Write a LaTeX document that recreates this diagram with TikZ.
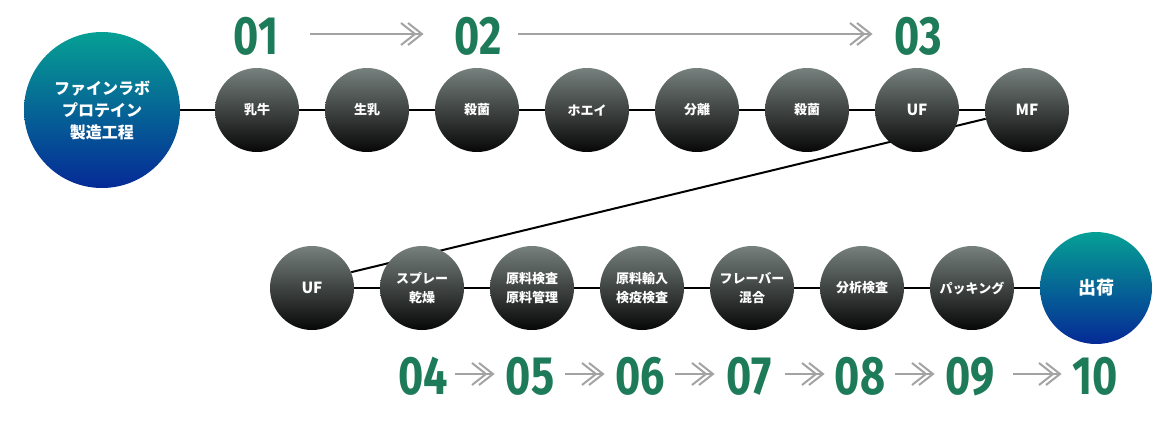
\documentclass[tikz,border=0pt]{standalone}
\usepackage{fontspec}
\newfontfamily\jp{Noto Sans CJK JP}
\newfontfamily\numfont{Fira Sans}[FakeStretch=0.8]
\usetikzlibrary{backgrounds}
\definecolor{ctop}{HTML}{76807D}
\definecolor{cbot}{HTML}{070707}
\definecolor{btop}{HTML}{06A095}
\definecolor{bbot}{HTML}{052A96}
\definecolor{numg}{HTML}{1E7B5A}
\definecolor{arrg}{HTML}{A3A3A3}
\tikzset{
  stepc/.style={circle, inner sep=0pt, minimum size=63pt, top color=ctop, bottom color=cbot,
    text=white, align=center, font=\jp\bfseries\fontsize{9.75}{14.25}\selectfont},
  latin/.style={font=\jp\bfseries\fontsize{11.5}{14}\selectfont},
  bigc/.style={circle, inner sep=0pt, top color=btop, bottom color=bbot, text=white, align=center},
  num/.style={text=numg, inner sep=0pt, anchor=base, font=\numfont\bfseries\fontsize{40.5}{40}\selectfont},
  conn/.style={line width=1.5pt, black},
  arrline/.style={line width=1.6pt, arrg},
  chev/.pic={
    \draw[line width=1.5pt, arrg, line cap=butt] (-14,-11) -- (0,0) -- (-14,11);
    \draw[line width=1.5pt, arrg, line cap=butt] (-21,-11) -- (-7,0) -- (-21,11);
  }
}
\begin{document}
\begin{tikzpicture}[x=0.75pt, y=-0.75pt]
\useasboundingbox (0,0) rectangle (1168,422);
% row 1
\node[bigc, minimum size=117pt, font=\jp\bfseries\fontsize{12}{16.5}\selectfont] (start) at (102,110) {ファインラボ\\プロテイン\\製造工程};
\node[stepc] (s1) at (257,110) {乳牛};
\node[stepc] (s2) at (367,110) {生乳};
\node[stepc] (s3) at (477,110) {殺菌};
\node[stepc] (s4) at (587,110) {ホエイ};
\node[stepc] (s5) at (697,110) {分離};
\node[stepc] (s6) at (807,110) {殺菌};
\node[stepc, latin] (s7) at (917,110) {UF};
\node[stepc, latin] (s8) at (1027,110) {MF};
% row 2
\node[stepc, latin] (t1) at (312,288) {UF};
\node[stepc] (t2) at (422,288) {スプレー\\乾燥};
\node[stepc] (t3) at (532,288) {原料検査\\原料管理};
\node[stepc] (t4) at (642,288) {原料輸入\\検疫検査};
\node[stepc] (t5) at (752,288) {フレーバー\\混合};
\node[stepc] (t6) at (862,288) {分析検査};
\node[stepc] (t7) at (972,288) {パッキング};
\node[bigc, minimum size=84pt, font=\jp\bfseries\fontsize{13.5}{16}\selectfont] (ship) at (1096,288) {出荷};
% connectors behind circles
\begin{pgfonlayer}{background}
\draw[conn] (start) -- (s1) -- (s2) -- (s3) -- (s4) -- (s5) -- (s6) -- (s7) -- (s8);
\draw[conn] (s8.192) -- (t1.22);
\draw[conn] (t1) -- (t2) -- (t3) -- (t4) -- (t5) -- (t6) -- (t7) -- (ship);
\end{pgfonlayer}
% numbers
\node[num] (n01) at (256,54) {01};
\node[num] (n02) at (478,54) {02};
\node[num] (n03) at (918,54) {03};
\node[num] (n04) at (423,394) {04};
\node[num] (n05) at (530,394) {05};
\node[num] (n06) at (640,394) {06};
\node[num] (n07) at (749,394) {07};
\node[num] (n08) at (860,394) {08};
\node[num] (n09) at (970,394) {09};
\node[num] (n10) at (1095,394) {10};
% arrows
\coordinate (a1s) at (310,34);  \coordinate (a1e) at (422,34);
\coordinate (a2s) at (518,34);  \coordinate (a2e) at (871,34);
\coordinate (b1s) at (455,374); \coordinate (b1e) at (493,374);
\coordinate (b2s) at (565,374); \coordinate (b2e) at (603,374);
\coordinate (b3s) at (675,374); \coordinate (b3e) at (713,374);
\coordinate (b4s) at (785,374); \coordinate (b4e) at (823,374);
\coordinate (b5s) at (895,374); \coordinate (b5e) at (933,374);
\coordinate (b6s) at (1013,374); \coordinate (b6e) at (1060,374);
\foreach \s/\e in {a1s/a1e, a2s/a2e, b1s/b1e, b2s/b2e, b3s/b3e, b4s/b4e, b5s/b5e, b6s/b6e}{
  \draw[arrline] (\s) -- ([xshift=-1pt]\e);
  \path (\e) pic{chev};
}
\end{tikzpicture}
\end{document}
